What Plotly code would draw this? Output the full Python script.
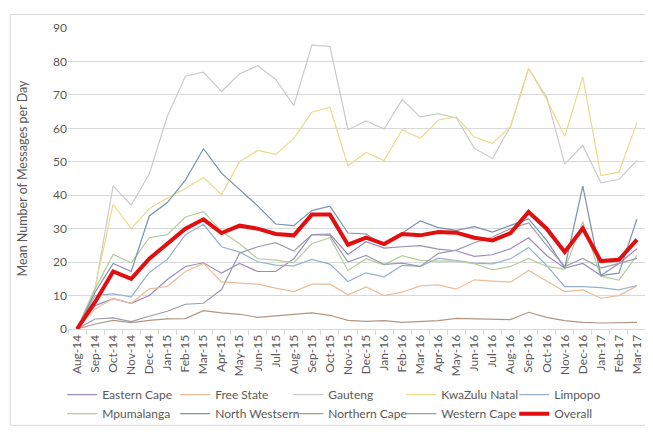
import plotly.graph_objects as go

months = ["Aug-14", "Sep-14", "Oct-14", "Nov-14", "Dec-14", "Jan-15", "Feb-15", "Mar-15",
          "Apr-15", "May-15", "Jun-15", "Jul-15", "Aug-15", "Sep-15", "Oct-15", "Nov-15",
          "Dec-15", "Jan-16", "Feb-16", "Mar-16", "Apr-16", "May-16", "Jun-16", "Jul-16",
          "Aug-16", "Sep-16", "Oct-16", "Nov-16", "Dec-16", "Jan-17", "Feb-17", "Mar-17"]

eastern_cape = [0, 7, 9.1, 7.7, 10, 14.8, 18.7, 19.8, 16.7, 19.6, 17.2, 17.2, 21, 28.2, 28.4, 22.3,
                26.1, 24.2, 24.6, 24.9, 23.9, 23.4, 21.7, 22.2, 24, 27.3, 22, 18.2, 19.6, 16, 19.6, 24]
free_state = [0, 6, 9.1, 7.7, 12, 12.7, 17.2, 19.6, 14.1, 13.7, 13.4, 12.2, 11.2, 13.4, 13.4, 10.2,
              12.6, 10, 11, 12.9, 13.2, 11.9, 14.7, 14.3, 14, 17.5, 14.3, 11.2, 11.7, 9.2, 10, 12.9]
gauteng = [0, 12, 42.8, 37, 46.4, 63.6, 75.6, 76.8, 71, 76.3, 78.7, 74.6, 66.8, 84.9, 84.5, 59.6,
           62.2, 59.8, 68.6, 63.4, 64.4, 63.1, 54, 51, 60.6, 77.8, 69.4, 49.3, 54.9, 43.7, 44.7, 50.4]
kwazulu_natal = [0, 12.4, 37.3, 30, 36, 39.2, 42, 45.3, 40.2, 50, 53.4, 52.2, 57, 64.8, 66.3, 48.8,
                 52.8, 50.4, 59.6, 57, 62.5, 63.4, 57.4, 55.5, 60.6, 78, 68.6, 57.6, 75.4, 45.9, 46.9, 61.7]
limpopo = [0, 10, 10.5, 9.6, 16.9, 20.8, 28.2, 31.3, 24.6, 23, 20.1, 19.1, 18.9, 20.8, 19.4, 14.2,
           16.8, 15.6, 19, 18.7, 21.2, 20.5, 19.7, 19.5, 21, 24.4, 19, 12.7, 12.7, 12.4, 11.7, 13]
mpumalanga = [0, 12, 22.3, 19.8, 27.3, 28.2, 33.5, 35.1, 29.2, 25.5, 21, 20.6, 19.8, 25.5, 27.3, 17.5,
              21, 19.2, 21.9, 20.5, 20.3, 20.3, 19.5, 17.7, 18.7, 21.1, 18.7, 17.9, 32.1, 15.8, 14.6, 22]
north_westsern = [0, 11, 19.6, 17.2, 33.8, 37.8, 44.5, 53.9, 46.6, 41.6, 36.8, 31.4, 30.9, 35.4, 36.7, 28.7,
                  28.4, 25, 28.7, 32.3, 30.3, 29.5, 30.6, 29, 31, 32.9, 26.5, 18.2, 42.7, 16, 16.7, 32.9]
northern_cape = [0, 1.5, 2.6, 1.9, 2.6, 3, 3.1, 5.5, 4.8, 4.4, 3.5, 3.9, 4.3, 4.8, 4.1, 2.6,
                 2.3, 2.5, 2, 2.2, 2.5, 3.2, 3, 2.8, 2.8, 5, 3.5, 2.5, 2, 1.8, 1.8, 2]
western_cape = [0, 3, 3.3, 2.2, 3.8, 5.3, 7.4, 7.7, 11.8, 22.7, 24.6, 25.8, 23.3, 28.2, 28, 20,
                22, 19.3, 19.7, 18.7, 22.6, 23.6, 25.8, 27.5, 30, 31.7, 25, 18.7, 21.1, 18.2, 19.6, 21.1]
overall = [0, 8.1, 17.2, 15, 21, 25.4, 30, 32.8, 28.7, 30.9, 30, 28.4, 28, 34.2, 34.2, 25.2,
           27.3, 25.4, 28.4, 28, 29, 28.8, 27.3, 26.5, 28.7, 35, 30, 23, 30.1, 20.3, 20.7, 26.7]

series = [
    ("Eastern Cape", eastern_cape, "#9a8cbc", 1.2),
    ("Free State", free_state, "#eabd98", 1.2),
    ("Gauteng", gauteng, "#cbcbcb", 1.2),
    ("KwaZulu Natal", kwazulu_natal, "#e9dc8a", 1.2),
    ("Limpopo", limpopo, "#97b0d0", 1.2),
    ("Mpumalanga", mpumalanga, "#b6cb9c", 1.2),
    ("North Westsern", north_westsern, "#7b91b0", 1.2),
    ("Northern Cape", northern_cape, "#b39682", 1.2),
    ("Western Cape", western_cape, "#9c9cae", 1.2),
    ("Overall", overall, "#e01010", 4),
]

fig = go.Figure()
for name, vals, color, w in series:
    fig.add_trace(go.Scatter(x=months, y=vals, mode="lines", name=name,
                             line=dict(color=color, width=w)))

font_family = "Lato, 'Open Sans', sans-serif"
fig.update_layout(
    width=653, height=432,
    margin=dict(l=60, r=15, t=15, b=103),
    paper_bgcolor="white", plot_bgcolor="white",
    font=dict(family=font_family, size=12, color="#595959"),
    showlegend=True,
    legend=dict(orientation="h", x=-0.01, xanchor="left", y=-0.17, yanchor="top",
                entrywidth=68, entrywidthmode="pixels",
                font=dict(size=12, color="#595959"), itemwidth=30,
                tracegroupgap=0, bgcolor="rgba(0,0,0,0)"),
    xaxis=dict(type="category", tickangle=-90, showgrid=False, showline=True,
               linecolor="#d9d9d9", linewidth=1, ticks="outside", tickcolor="#d9d9d9",
               ticklen=5, tickson="boundaries", tickfont=dict(size=12, color="#595959"),
               range=[-0.5, 31.5]),
    yaxis=dict(range=[0, 90], dtick=10, showgrid=True, gridcolor="#d9d9d9", gridwidth=1,
               zeroline=False, showline=False, ticks="", tickfont=dict(size=12, color="#595959"),
               title=dict(text="Mean Number of Messages per Day", font=dict(size=12.5, color="#595959"),
                          standoff=22)),
    shapes=[dict(type="rect", xref="paper", yref="paper",
                 x0=-0.1, x1=1.024, y0=-0.32, y1=1.045,
                 line=dict(color="#d9d9d9", width=1), fillcolor="rgba(0,0,0,0)", layer="below")],
)

fig.write_html("out.html")
